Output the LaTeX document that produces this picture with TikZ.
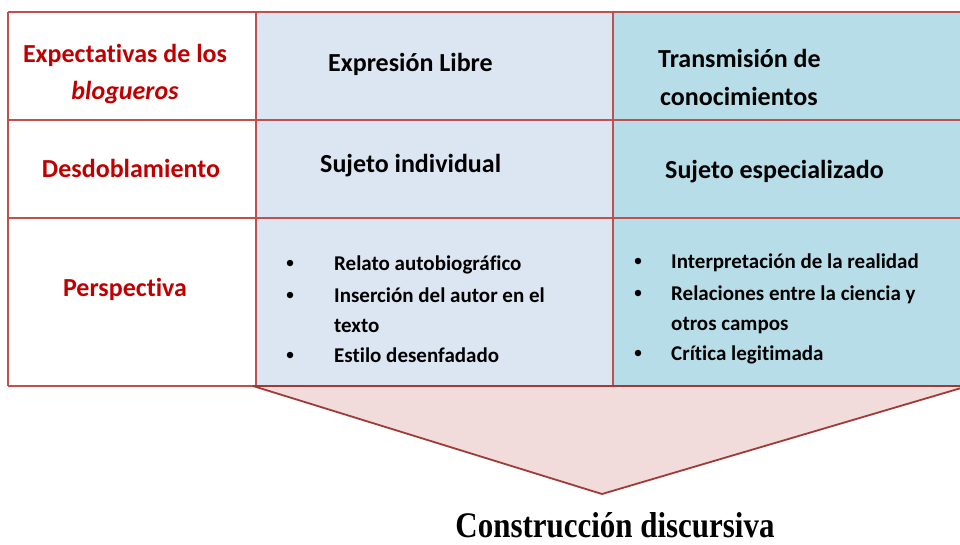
\documentclass[tikz,border=0pt]{standalone}
\usepackage{fontspec}
\setmainfont[Ligatures=NoCommon]{Carlito}
\newfontfamily\serifbold{Liberation Serif}
\usepackage{tikz}

\definecolor{gridred}{HTML}{C0504D}
\definecolor{headred}{HTML}{C00000}
\definecolor{colA}{HTML}{DCE6F2}
\definecolor{colB}{HTML}{B7DEE8}
\definecolor{arrowfill}{HTML}{F2DCDB}
\definecolor{arrowline}{HTML}{A03A37}

\begin{document}
\begin{tikzpicture}
[x=1pt,y=-1pt,every node/.style={inner sep=0pt,font=\fontsize{26}{37}\selectfont\bfseries},
 head/.style={anchor=base,text=headred},
 cell/.style={anchor=base west},
 item/.style={anchor=base west,font=\fontsize{21}{30}\selectfont\bfseries},
 dot/.style={circle,fill=black,minimum size=6.5pt},
 grid/.style={draw=gridred,line width=2.2pt}]
\useasboundingbox (0,0) rectangle (960,544);

% cells
\fill[white] (8,12) rectangle (256,386);
\fill[colA] (256,12) rectangle (613,386);
\fill[colB] (613,12) rectangle (962,386);
\foreach \yy in {12,120,218,386}
\draw[grid] (8,\yy) -- (962,\yy);
\foreach \xx in {8,256,613}
\draw[grid] (\xx,12) -- (\xx,386);

% arrow
\draw[fill=arrowfill,draw=arrowline,line width=1.8pt,line join=round] (253,386) -- (602,494) -- (968,386) -- cycle;

% first column
\node[head] (h1) at (125,62) {Expectativas de los};
\node[head] (h1b) at (125,99) {\itshape blogueros};
\node[head] (h2) at (131,177) {Desdoblamiento};
\node[head] (h3) at (125,296) {Perspectiva};

% second and third columns
\node[cell] (e1) at (328,71) {Expresión Libre};
\node[cell] (t1) at (658,67) {Transmisión de};
\node[cell] (t1b) at (660,105) {conocimientos};
\node[cell] (s1) at (320,172) {Sujeto individual};
\node[cell] (s2) at (665,178) {Sujeto especializado};

\foreach \yy/\txt/\nm in {270/Relato autobiográfico/a1,302/Inserción del autor en el/a2,332/texto/a3,362/Estilo desenfadado/a4}
\node[item] (\nm) at (334,\yy) {\txt};
\foreach \yy/\nm in {263/da1,295/da2,355/da4}
\node[dot] (\nm) at (290,\yy) {};

\foreach \yy/\txt/\nm in {268/Interpretación de la realidad/b1,300/Relaciones entre la ciencia y/b2,330/otros campos/b3,360/Crítica legitimada/b4}
\node[item] (\nm) at (671,\yy) {\txt};
\foreach \yy/\nm in {261/db1,293/db2,353/db4}
\node[dot] (\nm) at (638,\yy) {};

\node[anchor=base,font=\serifbold\fontsize{36}{40}\selectfont\bfseries] (cd) at (615,537) {\scalebox{0.86}[1]{Construcción discursiva}};
\end{tikzpicture}
\end{document}
